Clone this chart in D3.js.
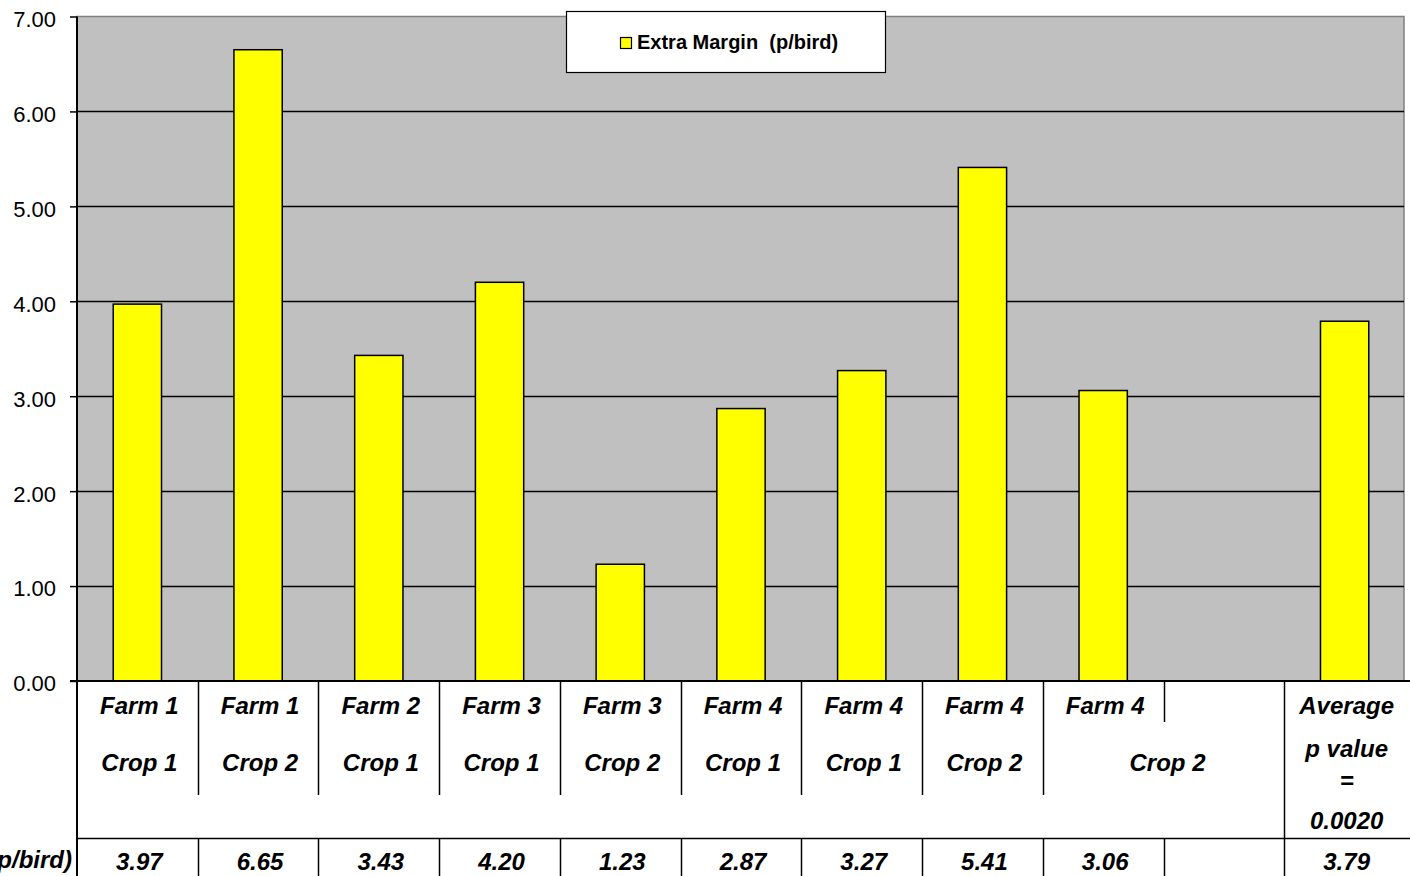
<!DOCTYPE html>
<html>
<head>
<meta charset="utf-8">
<script src="https://cdn.jsdelivr.net/npm/d3@7"></script>
<style>
  body { margin: 0; background: #fff; }
  svg text { font-family: "Liberation Sans", Arial, sans-serif; }
</style>
</head>
<body>
<div id="chart"></div>
<script>
// values
var farmLabels = ["Farm 1", "Farm 1", "Farm 2", "Farm 3", "Farm 3", "Farm 4", "Farm 4", "Farm 4", "Farm 4", "", "Average"];
var cropLabels = ["Crop 1", "Crop 2", "Crop 1", "Crop 1", "Crop 2", "Crop 1", "Crop 1", "Crop 2", "", "", ""];
var margin = [3.97, 6.65, 3.43, 4.20, 1.23, 2.87, 3.27, 5.41, 3.06, null, 3.79];
var marginText = ["3.97", "6.65", "3.43", "4.20", "1.23", "2.87", "3.27", "5.41", "3.06", "", "3.79"];
var averageNote = ["p value", "=", "0.0020"];
var yTicks = [0, 1, 2, 3, 4, 5, 6, 7];
var seriesName = "Extra Margin  (p/bird)";
var rowName = "Extra Margin (p/bird)";

function drawChart() {
  var W = 1410, H = 876;
  var pLeft = 77, pRight = 1405, pTop = 16.5, pBottom = 681;

  var svg = d3.select("#chart").append("svg").attr("width", W).attr("height", H);

  var idx = d3.range(farmLabels.length);
  var x = d3.scaleBand().domain(idx).range([pLeft, pRight]).paddingInner(0.6).paddingOuter(0.3);
  var cell = d3.scaleBand().domain(idx).range([pLeft, pRight]);
  var y = d3.scaleLinear().domain([0, 7]).range([pBottom, pTop]);

  // plot area
  svg.append("rect")
    .attr("x", pLeft).attr("y", pTop)
    .attr("width", pRight - pLeft - 1).attr("height", pBottom - pTop)
    .attr("fill", "#c0c0c0").attr("stroke", "#808080").attr("stroke-width", 1.5);

  // gridlines
  svg.selectAll("line.grid")
    .data(yTicks.filter(function (d) { return d > 0 && d < 7; }))
    .enter().append("line")
      .attr("x1", pLeft).attr("x2", pRight - 1)
      .attr("y1", function (d) { return Math.round(y(d)) + 0.5; })
      .attr("y2", function (d) { return Math.round(y(d)) + 0.5; })
      .attr("stroke", "#000").attr("stroke-width", 1.3);

  // y axis
  var yAxis = d3.axisLeft(y).tickValues(yTicks).tickFormat(d3.format(".2f")).tickSize(7).tickPadding(14);
  var ga = svg.append("g").attr("transform", "translate(" + pLeft + ",0)").call(yAxis);
  ga.select(".domain").remove();
  ga.selectAll("line").attr("stroke", "#000").attr("stroke-width", 1.5);
  ga.selectAll("text").attr("font-size", 22).attr("fill", "#000")
    .attr("font-family", "Liberation Sans, Arial, sans-serif")
    .attr("dy", "0.45em");

  // bars
  svg.selectAll("rect.bar")
    .data(idx.filter(function (i) { return margin[i] != null; }))
    .enter().append("rect")
      .attr("class", "bar")
      .attr("x", function (i) { return x(i); })
      .attr("width", x.bandwidth())
      .attr("y", function (i) { return y(margin[i]); })
      .attr("height", function (i) { return y(0) - y(margin[i]); })
      .attr("fill", "#ffff00").attr("stroke", "#000").attr("stroke-width", 1.5);

  // axis lines
  svg.append("line").attr("x1", pLeft).attr("x2", pLeft).attr("y1", pTop).attr("y2", H)
    .attr("stroke", "#000").attr("stroke-width", 2);
  svg.append("line").attr("x1", pLeft - 7).attr("x2", W).attr("y1", pBottom).attr("y2", pBottom)
    .attr("stroke", "#000").attr("stroke-width", 2);

  // legend
  var lg = svg.append("g");
  lg.append("rect").attr("x", 566.5).attr("y", 11.5).attr("width", 319).attr("height", 61)
    .attr("fill", "#fff").attr("stroke", "#000").attr("stroke-width", 1.2);
  lg.append("rect").attr("x", 620.5).attr("y", 37.5).attr("width", 11).attr("height", 11)
    .attr("fill", "#ffff00").attr("stroke", "#000").attr("stroke-width", 1.2);
  lg.append("text").attr("x", 637).attr("y", 49).attr("font-size", 20).attr("font-weight", "bold")
    .style("white-space", "pre")
    .text(seriesName);

  // data table
  var rowA = 722, rowB = 795, rowC = 838;
  var seps = [];
  idx.forEach(function (i) {
    if (i === 0) return;
    var xx = Math.round(cell(i)) + 0.5;
    if (i === 10) { seps.push([xx, pBottom, H]); return; }
    seps.push([xx, pBottom, rowA]);
    if (i !== 9) seps.push([xx, rowA, rowB]);
    seps.push([xx, rowC, H]);
  });
  svg.selectAll("line.sep").data(seps).enter().append("line")
    .attr("x1", function (d) { return d[0]; }).attr("x2", function (d) { return d[0]; })
    .attr("y1", function (d) { return d[1]; }).attr("y2", function (d) { return d[2]; })
    .attr("stroke", "#000").attr("stroke-width", 1.5);
  svg.append("line").attr("x1", pLeft).attr("x2", W).attr("y1", rowC + 0.5).attr("y2", rowC + 0.5)
    .attr("stroke", "#000").attr("stroke-width", 1.5);

  function cellText(txt, cx, cy) {
    svg.append("text").attr("x", cx + 2).attr("y", cy)
      .attr("text-anchor", "middle").attr("font-size", 24)
      .attr("font-weight", "bold").attr("font-style", "italic")
      .text(txt);
  }
  idx.forEach(function (i) {
    var cx = cell(i) + cell.bandwidth() / 2;
    cellText(farmLabels[i], cx, 714);
    if (cropLabels[i]) cellText(cropLabels[i], cx, 771);
    cellText(marginText[i], cx, 870);
  });
  // merged Crop 2 cell over the last farm column and the empty one
  cellText("Crop 2", cell(8) + cell.bandwidth() + 2, 771);
  averageNote.forEach(function (t, k) {
    cellText(t, cell(10) + cell.bandwidth() / 2, [757, 789, 829][k]);
  });
  svg.append("text").attr("x", 72).attr("y", 868)
    .attr("text-anchor", "end").attr("font-size", 24)
    .attr("font-weight", "bold").attr("font-style", "italic")
    .text(rowName);
}

drawChart();
</script>
</body>
</html>
